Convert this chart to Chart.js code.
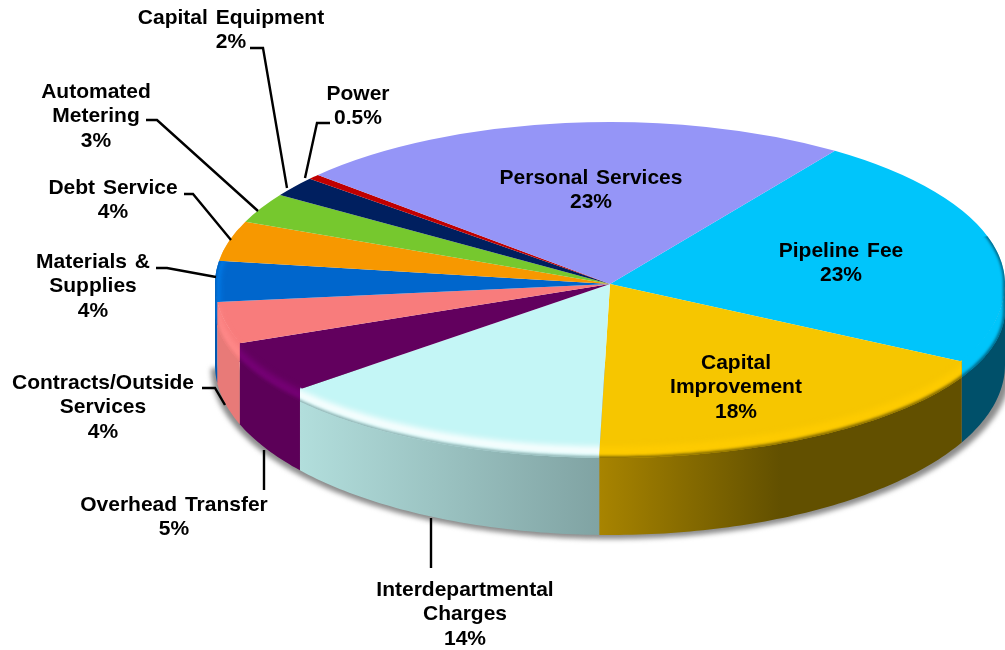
<!DOCTYPE html>
<html>
<head>
<meta charset="utf-8">
<title>Budget by category</title>
<style>
  html, body { margin: 0; padding: 0; background: #fff; overflow: hidden; }
  canvas { display: block; }
</style>
<script src="https://cdn.jsdelivr.net/npm/chart.js@4/dist/chart.umd.min.js"></script>
</head>
<body>
<canvas id="budgetPie" width="1005" height="650"></canvas>
<script>
const categories = ['Pipeline Fee', 'Capital Improvement', 'Interdepartmental Charges', 'Overhead Transfer',
  'Contracts/Outside Services', 'Materials & Supplies', 'Debt Service', 'Automated Metering',
  'Capital Equipment', 'Power', 'Personal Services'];
const values = [23, 18, 14, 5, 4, 4, 4, 3, 2, 0.5, 23];
const faceColors = ['#00c5fb', '#f6c600', '#c4f6f6', '#62005e', '#f87c7c', '#0066cc', '#f79800', '#76c82e', '#001f5f', '#c00000', '#9595f7'];

// side wall gradient stops, left to right, and the lighter bevel line on the rim
const wallColors = [['#00506a'], ['#a88400', '#625000', '#625000'], ['#b2dedc', '#80a3a3'], ['#5c0058'],
  ['#e87a78'], ['#0058b0'], ['#f79800'], ['#76c82e'], ['#001f5f'], ['#c00000'], ['#9595f7']];
const rimColors = [null, '#ffcc00', '#ffffff', '#780078', '#ff8a8a', '#0084f4', null, null, null, null, null];

// wrapped label text, position and leader line for every slice
const labelLayout = [
  { lines: ['Pipeline Fee'], x: 841, y: 251 },
  { lines: ['Capital', 'Improvement'], x: 736, y: 363 },
  { lines: ['Interdepartmental', 'Charges'], x: 465, y: 590, leader: [[431, 568], [431, 518]] },
  { lines: ['Overhead Transfer'], x: 174, y: 505, leader: [[264, 490], [264, 450]] },
  { lines: ['Contracts/Outside', 'Services'], x: 103, y: 383, leader: [[202, 388], [215, 388], [225, 405]] },
  { lines: ['Materials &', 'Supplies'], x: 93, y: 262, leader: [[156, 268], [167, 268], [216, 277]] },
  { lines: ['Debt Service'], x: 113, y: 188, leader: [[184, 194], [193, 194], [231, 240]] },
  { lines: ['Automated', 'Metering'], x: 96, y: 92, leader: [[146, 120], [157, 120], [258, 211]] },
  { lines: ['Capital Equipment'], x: 231, y: 18, leader: [[250, 48], [263, 48], [287, 188]] },
  { lines: ['Power'], x: 358, y: 94, leader: [[330, 123], [317, 123], [305, 178]] },
  { lines: ['Personal Services'], x: 591, y: 178 }
];

const cx = 610, cy = 284, rx = 395;
const ryBack = 162, ryFront = 170;   // far half is flatter than the near half
const lipY = 310, lipRy = 148;       // where the rounded edge meets the wall
const baseY = 365, baseRy = 170;
const lineStep = 24.5;

function rimPoint(a, inset = 0) {
  const s = Math.sin(a);
  return [cx + rx * Math.cos(a), cy + (s > 0 ? ryFront - inset : ryBack) * s];
}

function lipPoint(a, lift) {
  const s = Math.sin(a);
  if (s < 0) return rimPoint(a);
  return [cx + rx * Math.cos(a), lipY + lipRy * s - lift];
}

function basePoint(a) {
  return [cx + rx * Math.cos(a), baseY + baseRy * Math.sin(a)];
}

function sample(a0, a1, fn) {
  const n = Math.max(2, Math.ceil((a1 - a0) * 60));
  const pts = [];
  for (let i = 0; i <= n; i++) pts.push(fn(a0 + (a1 - a0) * i / n));
  return pts;
}

function tracePath(ctx, pts) {
  pts.forEach((p, i) => i ? ctx.lineTo(p[0], p[1]) : ctx.moveTo(p[0], p[1]));
}

// part of a slice between two canvas angles, null when it lies outside them
function angleRange(arc, lo, hi) {
  const tau = Math.PI * 2;
  let a0 = arc.startAngle, a1 = arc.endAngle;
  while (a0 < -Math.PI) { a0 += tau; a1 += tau; }
  while (a0 > Math.PI) { a0 -= tau; a1 -= tau; }
  if (a1 <= lo || a0 >= hi) {
    a0 += tau; a1 += tau;
    if (a1 <= lo || a0 >= hi) return null;
  }
  return [Math.max(a0, lo), Math.min(a1, hi)];
}

function wallFill(ctx, xs, stops) {
  const g = ctx.createLinearGradient(Math.min(...xs), 0, Math.max(...xs), 0);
  if (stops.length === 1) return stops[0];
  stops.forEach((c, i) => g.addColorStop(i / (stops.length - 1), c));
  return g;
}

const pie3d = {
  id: 'pie3d',
  beforeDatasetDraw(chart, args) {
    const ctx = chart.ctx;
    const arcs = args.meta.data;

    // soft shadow just outside the body, wider to the lower right
    ctx.save();
    ctx.filter = 'blur(2.5px)';
    ctx.fillStyle = '#8c8c8c';
    ctx.beginPath();
    tracePath(ctx, sample(0, Math.PI, a => [cx + 1 + (rx + 5) * Math.cos(a), baseY + 3 + (baseRy + 1) * Math.sin(a)]));
    ctx.closePath();
    ctx.fill();
    ctx.restore();

    // side walls
    arcs.forEach((arc, i) => {
      const r = angleRange(arc, 0, Math.PI);
      if (!r) return;
      const top = sample(r[0], r[1], a => rimPoint(a));
      const bottom = sample(r[0], r[1], basePoint).reverse();
      ctx.fillStyle = wallFill(ctx, top.map(p => p[0]), wallColors[i]);
      ctx.beginPath();
      tracePath(ctx, top.concat(bottom));
      ctx.closePath();
      ctx.fill();
    });

    // the slices themselves, near and far halves with their own vertical scale
    [[ryBack, 0, cy], [ryFront, cy, 650 - cy]].forEach(([ry, top, h]) => {
      ctx.save();
      ctx.beginPath();
      ctx.rect(0, top, 1005, h);
      ctx.clip();
      ctx.translate(cx, cy);
      ctx.scale(1, ry / rx);
      ctx.translate(-arcs[0].x, -arcs[0].y);
      args.meta.controller.draw();
      ctx.restore();
    });

    // rounded edge between face and wall, in the colour of each slice
    arcs.forEach((arc, i) => {
      const r = angleRange(arc, 0, Math.PI);
      if (!r) return;
      const upper = sample(r[0], r[1], a => rimPoint(a, 3));
      const lower = sample(r[0], r[1], a => lipPoint(a, 0));
      ctx.fillStyle = faceColors[i];
      ctx.beginPath();
      tracePath(ctx, upper.concat(lower.reverse()));
      ctx.closePath();
      ctx.fill();
    });

    // highlight and soft dark line along that edge, kept inside each slice
    arcs.forEach((arc, i) => {
      const r = angleRange(arc, -0.3, Math.PI + 0.35);
      if (!r) return;
      const pad = 0.08;   // run past the slice so the blur does not fade at its ends
      const edge = sample(r[0], r[1], a => lipPoint(a, 0));
      ctx.save();
      ctx.beginPath();
      tracePath(ctx, [[cx, cy], rimPoint(r[0])].concat(edge, [rimPoint(r[1])]));
      ctx.closePath();
      ctx.clip();
      if (rimColors[i]) {
        ctx.filter = 'blur(3px)';
        ctx.strokeStyle = rimColors[i];
        ctx.lineWidth = 8;
        ctx.beginPath();
        tracePath(ctx, sample(r[0] - pad, r[1] + pad, a => lipPoint(a, 7)));
        ctx.stroke();
      }
      ctx.filter = 'blur(1.5px)';
      ctx.strokeStyle = wallColors[i][wallColors[i].length - 1];
      ctx.lineWidth = 3;
      ctx.beginPath();
      tracePath(ctx, sample(r[0] - pad, r[1] + pad, a => lipPoint(a, 0)));
      ctx.stroke();
      ctx.restore();
    });
    return false;
  },
  afterDraw(chart) {
    const ctx = chart.ctx;
    ctx.save();
    ctx.strokeStyle = '#000';
    ctx.lineWidth = 2.4;
    labelLayout.forEach(item => {
      if (!item.leader) return;
      ctx.beginPath();
      tracePath(ctx, item.leader);
      ctx.stroke();
    });
    ctx.fillStyle = '#000';
    ctx.font = 'bold 21px "Liberation Sans", Arial, sans-serif';
    ctx.textAlign = 'center';
    ctx.textBaseline = 'middle';
    ctx.wordSpacing = '2px';
    labelLayout.forEach((item, i) => {
      const rows = item.lines.concat(values[i] + '%');
      rows.forEach((text, j) => ctx.fillText(text, item.x, item.y + j * lineStep));
    });
    ctx.restore();
  }
};

new Chart(document.getElementById('budgetPie'), {
  type: 'pie',
  data: {
    labels: categories,
    datasets: [{
      data: values,
      backgroundColor: faceColors,
      borderWidth: 0,
      radius: rx
    }]
  },
  options: {
    responsive: false,
    animation: false,
    rotation: 34.7,
    layout: { padding: { left: 215, top: 0, bottom: 68 } },
    events: [],
    plugins: { legend: { display: false }, tooltip: { enabled: false } }
  },
  plugins: [pie3d]
});
</script>
</body>
</html>
